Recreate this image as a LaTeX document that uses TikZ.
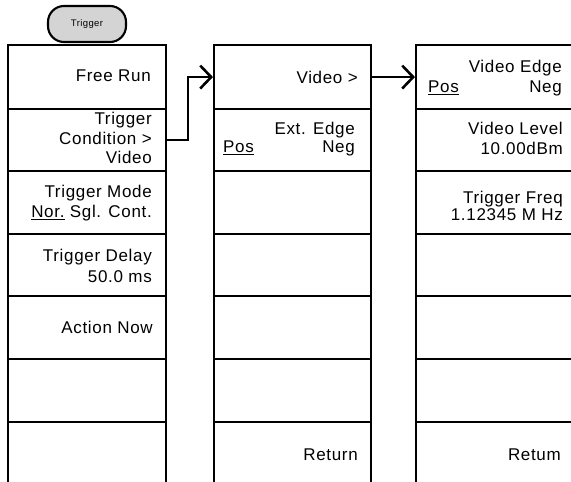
\documentclass[tikz,border=0pt]{standalone}
\usepackage{fontspec}
\setmainfont{Liberation Sans}[LetterSpace=4.0]
\usetikzlibrary{arrows.meta}
\begin{document}
\begin{tikzpicture}[x=1pt,y=-1pt,
  cell/.style={draw=black, line width=2.1pt, anchor=north west, inner sep=0pt, minimum width=#1},
  lbl/.style={anchor=east, inner sep=0pt, align=right, font=\fontsize{17}{20}\selectfont},
  lblL/.style={anchor=west, inner sep=0pt, font=\fontsize{17}{20}\selectfont},
  conn/.style={line width=2.6pt, -{Straight Barb[length=11pt,width=23pt,line width=2.6pt]}},
  btn/.style={draw=black, line width=2.1pt, fill=black!17, rounded corners=16pt, minimum width=78pt, minimum height=36pt, inner sep=0pt, font=\fontsize{9.5}{10}\selectfont}]
\useasboundingbox (0,0) rectangle (571,482);
% columns of soft keys
\foreach \t/\h/\i in {44/64/1,108/62/2,170/63/3,233/62/4,295/63/5,358/63/6,421/79/7}{
  \node[cell=158pt, minimum height=\h pt] (L\i) at (7,\t) {};
  \node[cell=157pt, minimum height=\h pt] (M\i) at (213,\t) {};
  \node[cell=170pt, minimum height=\h pt] (R\i) at (415,\t) {};
}
% hard key
\node[btn] (trig) at (87,24) {Trigger};
% left column texts
\node[lbl] (tL1) at (151,76) {Free Run};
\node[lbl, font=\fontsize{17}{19.5}\selectfont] (tL2) at (152,138) {Trigger\\Condition >\\Video};
\node[lbl] (tL3) at (152,203) {Trigger Mode\\\underline{Nor.} Sgl. Cont.};
\node[lbl, font=\fontsize{17}{21.5}\selectfont] (tL4) at (152,266) {Trigger Delay\\50.0 ms};
\node[lbl] (tL5) at (153,327) {Action Now};
% middle column texts
\node[lbl] (tM1) at (358,77) {Video >};
\node[lbl, font=\fontsize{17}{18}\selectfont] (tM2) at (355,139) {Ext. Edge\\Neg};
\node[lblL] (pM2) at (223,148) {\underline{Pos}};
\node[lbl] (tM7) at (358,455) {Return};
% right column texts
\node[lbl] (tR1) at (562,78) {Video Edge\\Neg};
\node[lblL] (pR1) at (428,88) {\underline{Pos}};
\node[lbl] (tR2) at (563,138) {Video Level\\10.00dBm};
\node[lbl, font=\fontsize{17}{14}\selectfont] (tR3) at (563,206) {Trigger Freq\\1.12345 M Hz};
\node[lbl] (tR7) at (561,455) {Retum};
% connectors
\draw[conn] (L2.east) -- ++(21,0) |- (M1.west);
\draw[conn] (M1.east) -- (R1.west);
\end{tikzpicture}
\end{document}
